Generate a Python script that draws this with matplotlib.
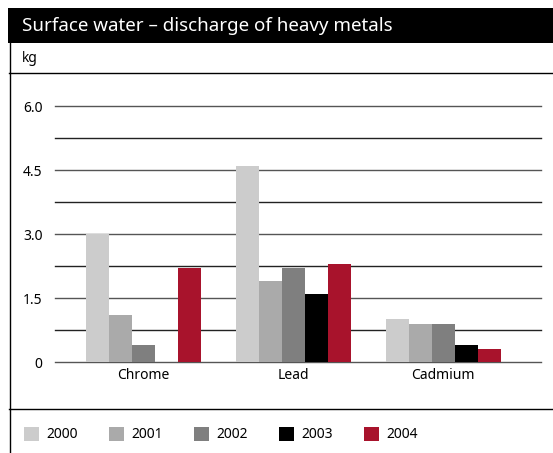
import numpy as np
import matplotlib
matplotlib.use('Agg')
import matplotlib.pyplot as plt
from matplotlib.patches import Rectangle
from matplotlib.lines import Line2D

plt.rcParams['font.family'] = ['Noto Sans', 'DejaVu Sans']

metals = ['Chrome', 'Lead', 'Cadmium']
years = ['2000', '2001', '2002', '2003', '2004']
chrome = [3.0, 1.1, 0.4, 0.0, 2.2]
lead = [4.6, 1.9, 2.2, 1.6, 2.3]
cadmium = [1.0, 0.9, 0.9, 0.4, 0.3]
colors = ['#cccccc', '#aaaaaa', '#7f7f7f', '#000000', '#a8132c']
yticks = [0, 1.5, 3.0, 4.5, 6.0]
ytick_labels = ['0', '1.5', '3.0', '4.5', '6.0']

W, H = 553, 453
fig = plt.figure(figsize=(W / 100, H / 100), dpi=100)

def fx(px):
    return px / W

def fy(py):
    return 1 - py / H

# frame: title band, unit row, legend separator
fig.patches.append(Rectangle((fx(8), fy(43)), fx(W - 8), 35 / H, transform=fig.transFigure,
                             facecolor='black', edgecolor='none'))
fig.text(fx(22), fy(26), 'Surface water \u2013 discharge of heavy metals', color='white',
         fontsize=13.5, va='center', ha='left')
fig.text(fx(22), fy(58), 'kg', fontsize=10, va='center', ha='left')
fig.lines.append(Line2D([fx(9), 1], [fy(73), fy(73)], transform=fig.transFigure, color='black', lw=1.0))
fig.lines.append(Line2D([fx(9), 1], [fy(409), fy(409)], transform=fig.transFigure, color='black', lw=1.0))
fig.lines.append(Line2D([fx(9.5), fx(9.5)], [fy(43), 0], transform=fig.transFigure, color='black', lw=1.0))

ax = fig.add_axes([fx(55), fy(362), fx(541 - 55), 256 / H])
data = np.array([chrome, lead, cadmium])
w = 23 / 150
x = np.arange(len(metals))
for j, yr in enumerate(years):
    ax.bar(x + (j - 2) * w, data[:, j], width=w, color=colors[j], zorder=3)

for v in np.arange(0, 6.01, 0.75):
    ax.axhline(v, color='#222222' if v not in yticks else '#555555', lw=1.0, zorder=2, clip_on=False)

ax.set_ylim(0, 6.0)
ax.set_xlim(-0.587, 2.653)
ax.set_yticks(yticks)
ax.set_yticklabels(ytick_labels, fontsize=10)
ax.set_xticks(x)
ax.set_xticklabels(metals, fontsize=10)
ax.tick_params(length=0, pad=4)
ax.tick_params(axis='y', pad=9)
for s in ax.spines.values():
    s.set_visible(False)

# legend
for j, yr in enumerate(years):
    x0 = 24 + 85 * j
    fig.patches.append(Rectangle((fx(x0), fy(441)), fx(15), 14 / H, transform=fig.transFigure,
                                 facecolor=colors[j], edgecolor='none'))
    fig.text(fx(x0 + 22), fy(435), yr, fontsize=10, va='center', ha='left')

fig.savefig('out.png', dpi=100)
